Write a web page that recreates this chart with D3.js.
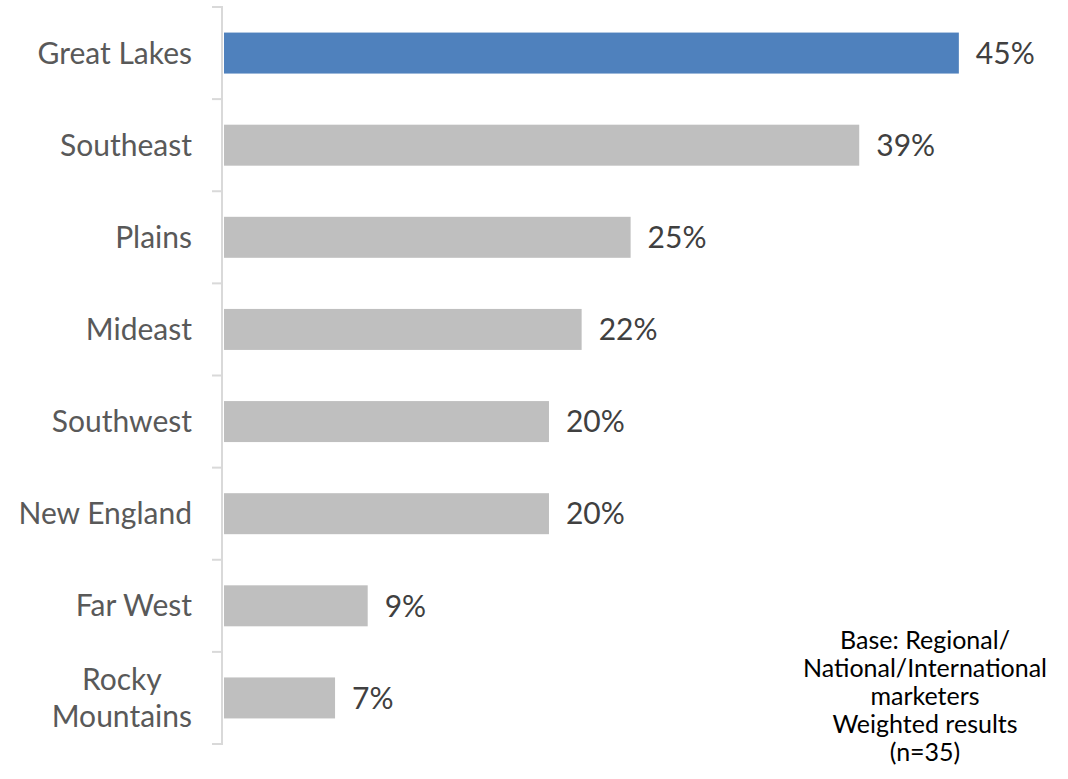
<!DOCTYPE html>
<html>
<head>
<meta charset="utf-8">
<script src="https://cdn.jsdelivr.net/npm/d3@7"></script>
<style>
  html, body { margin: 0; padding: 0; background: #ffffff; }
  svg { display: block; }
</style>
</head>
<body>
<svg id="chart" width="1068" height="779"></svg>
<script>
// ---- data ----
const categories = ["Great Lakes", "Southeast", "Plains", "Mideast", "Southwest", "New England", "Far West", "Rocky Mountains"];
const values = [45.0, 38.9, 24.9, 21.9, 19.9, 19.9, 8.8, 6.8];
const highlight = ["Great Lakes"];
const noteLines = ["Base: Regional/", "National/International", "marketers", "Weighted results", "(n=35)"];

// ---- layout ----
const W = 1068, H = 779;
const FONT = "Lato, 'Open Sans', 'DejaVu Sans', sans-serif";
const svg = d3.select("#chart");

const x = d3.scaleLinear().domain([0, 50]).range([224, 1040.5]);
const y = d3.scaleBand().domain(categories).range([7, 744]).paddingInner(0.555).paddingOuter(0.2775);

const data = categories.map((c, i) => ({ cat: c, val: values[i] }));

// bars
svg.append("g").selectAll("rect").data(data).join("rect")
  .attr("x", x(0))
  .attr("y", d => y(d.cat))
  .attr("width", d => x(d.val) - x(0))
  .attr("height", y.bandwidth())
  .attr("fill", d => highlight.includes(d.cat) ? "#4f81bd" : "#bfbfbf");

// axis line + ticks at band boundaries
const step = y.step();
const boundaries = categories.map(c => y(c) - step * y.paddingInner() / 2);
boundaries.push(y.range()[1]);
const axisG = svg.append("g");
axisG.append("line")
  .attr("x1", 222).attr("x2", 222)
  .attr("y1", y.range()[0]).attr("y2", y.range()[1])
  .attr("stroke", "#d9d9d9").attr("stroke-width", 2);
axisG.selectAll("line.tick").data(boundaries).join("line")
  .attr("class", "tick")
  .attr("x1", 212).attr("x2", 223)
  .attr("y1", d => d).attr("y2", d => d)
  .attr("stroke", "#d9d9d9").attr("stroke-width", 2);

// category labels
const labG = svg.append("g")
  .attr("font-family", FONT).attr("font-size", 30).attr("fill", "#595959");
data.forEach(d => {
  const cy = y(d.cat) + y.bandwidth() / 2;
  const words = d.cat === "Rocky Mountains" ? ["Rocky", "Mountains"] : [d.cat];
  if (words.length === 1) {
    labG.append("text")
      .attr("x", 192).attr("y", cy).attr("dy", "0.35em")
      .attr("text-anchor", "end").text(d.cat);
  } else {
    const t = labG.append("text").attr("text-anchor", "middle");
    const lh = 37;
    words.forEach((w, k) => {
      t.append("tspan").attr("x", 0)
        .attr("y", cy + 10.5 + (k - (words.length - 1) / 2) * lh)
        .text(w);
    });
    let maxW = 0;
    t.selectAll("tspan").each(function () { maxW = Math.max(maxW, this.getComputedTextLength()); });
    t.selectAll("tspan").attr("x", 192 - maxW / 2);
  }
});

// value labels
const fmt = v => d3.format(".0f")(v) + "%";
svg.append("g").selectAll("text").data(data).join("text")
  .attr("font-family", FONT).attr("font-size", 30).attr("fill", "#404040")
  .attr("x", d => x(d.val) + 17)
  .attr("y", d => y(d.cat) + y.bandwidth() / 2)
  .attr("dy", "0.36em")
  .text(d => fmt(d.val));

// note
const note = svg.append("text")
  .attr("font-family", FONT).attr("font-size", 25).attr("fill", "#000000")
  .attr("text-anchor", "middle");
noteLines.forEach((l, i) => {
  note.append("tspan").attr("x", 925).attr("y", 649 + i * 28).text(l);
});
</script>
</body>
</html>
